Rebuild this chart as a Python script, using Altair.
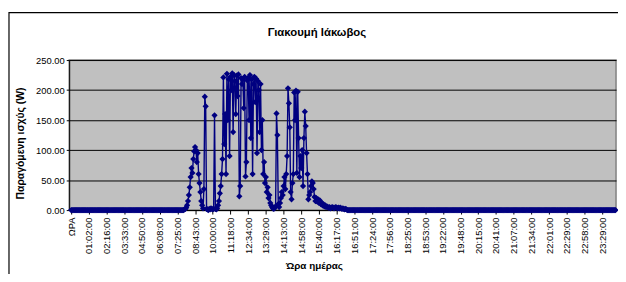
import altair as alt
import pandas as pd

title_text = "Γιακουμή Ιάκωβος"
y_title = "Παραγόμενη ισχύς  (W)"
x_title = "Ώρα ημέρας"

# tick labels, one every 20 samples
tick_labels = ["ΩΡΑ", "01:02:00", "02:16:00", "03:33:00", "04:50:00", "06:08:00",
               "07:25:00", "08:43:00", "10:00:00", "11:18:00", "12:34:00", "13:29:00",
               "14:13:00", "14:58:00", "15:40:00", "16:17:00", "16:51:00", "17:24:00",
               "17:56:00", "18:25:00", "18:53:00", "19:22:00", "19:48:00", "20:15:00",
               "20:41:00", "21:07:00", "21:34:00", "22:01:00", "22:29:00", "22:58:00",
               "23:29:00"]

# power readings (W); the night stretches read as zero
night_before = [0.0] * 128
day_values = [
    1, 2, 4, 8, 15, 25, 38, 55, 70, 62,
    85, 98, 105, 100, 80, 95, 60, 45, 30, 15,
    8, 3, 35, 189, 173, 2, 1, 0, 2, 1,
    3, 2, 1, 2, 158, 2, 1, 3, 8, 15,
    28, 40, 60, 85, 221, 110, 160, 60, 227, 150,
    218, 90, 222, 200, 228, 130, 225, 215, 160, 224,
    190, 226, 23, 40, 220, 210, 218, 170, 222, 56,
    80, 216, 220, 150, 225, 120, 218, 60, 210, 222,
    180, 219, 95, 215, 200, 130, 210, 100, 150, 60,
    80, 45, 55, 30, 38, 20, 25, 12, 8, 5,
    3, 2, 4, 6, 161, 125, 10, 5, 12, 20,
    30, 25, 40, 55, 35, 60, 90, 203, 178, 138,
    30, 18, 45, 60, 196, 150, 199, 62, 197, 120,
    55, 90, 70, 100, 40, 120, 164, 140, 95, 60,
    18, 25, 30, 40, 48, 45, 35, 22, 15, 20,
    14, 18, 12, 16, 10, 12, 8, 10, 6, 8,
    5, 6, 5, 4, 5, 3, 4, 5, 4, 3,
    4, 5, 4, 3, 4, 3, 4, 3, 2, 3,
    2, 1, 2, 1,
]
night_after = [0.0] * 304

power = night_before + day_values + night_after
df = pd.DataFrame({"i": list(range(len(power))), "w": power})

STEP = 20
label_expr = "[" + ",".join("'%s'" % t for t in tick_labels) + "][round(datum.value/%d)]" % STEP
tick_vals = [k * STEP for k in range(len(tick_labels))]

FONT = "Liberation Sans"
NAVY = "#000080"

base = alt.Chart(df).encode(
    x=alt.X("i:Q",
            scale=alt.Scale(domain=[-2.2, 615.6], nice=False, zero=False),
            axis=alt.Axis(values=tick_vals, labelExpr=label_expr, labelAngle=270,
                          labelFontSize=9.5, labelFont=FONT, labelColor="#000",
                          tickColor="#000", tickSize=4, labelPadding=3,
                          domainColor="#000", domainWidth=1, grid=False,
                          labelOverlap=False, labelBound=False, labelFlush=False,
                          title=x_title, titleFont=FONT, titleFontSize=10,
                          titleFontWeight="bold", titleColor="#000",
                          titleX=248, titleY=59, titleAlign="center",
                          titleBaseline="alphabetic")),
    y=alt.Y("w:Q",
            scale=alt.Scale(domain=[0, 250], nice=False),
            axis=alt.Axis(values=[0, 50, 100, 150, 200, 250], format=".2f",
                          labelFontSize=9.5, labelFont=FONT, labelColor="#000",
                          tickColor="#000", tickSize=3, labelPadding=2,
                          domainColor="#000", domainWidth=1,
                          grid=True, gridColor="#000", gridWidth=1, gridOpacity=1,
                          title=y_title, titleFont=FONT, titleFontSize=10.5,
                          titleFontWeight="bold", titleColor="#000",
                          titleAngle=270, titleX=-49, titleY=84,
                          titleAlign="center", titleBaseline="middle")),
)

line = base.mark_line(color=NAVY, strokeWidth=1.4, clip=False)
points = base.mark_point(shape="diamond", filled=True, size=40, color=NAVY,
                         opacity=1, clip=False)

frame = alt.Chart(alt.Data(values=[{"a": 1}])).mark_rect(
    filled=False, stroke="#000", strokeWidth=1.2
).encode(x=alt.value(-61), x2=alt.value(640), y=alt.value(-48), y2=alt.value(320))

title = alt.Chart(alt.Data(values=[{"t": title_text}])).mark_text(
    font=FONT, fontSize=11.5, fontWeight="bold", color="#000",
    align="center", baseline="alphabetic"
).encode(x=alt.value(251), y=alt.value(-24), text="t:N")

chart = alt.layer(frame, title, line, points).properties(
    width=554, height=152,
    autosize=alt.AutoSizeParams(type="none"),
    padding={"left": 62, "top": 51, "right": 2, "bottom": 63},
    background="#ffffff",
).configure_view(fill="#C0C0C0", stroke="#808080", strokeWidth=1.5)

chart.save("out.html", embed_options={"renderer": "svg", "actions": False})
